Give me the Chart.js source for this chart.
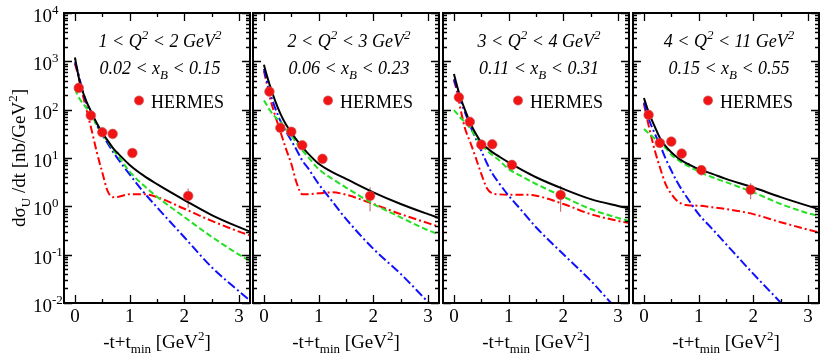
<!DOCTYPE html>
<html>
<head>
<meta charset="utf-8">
<script src="https://cdn.jsdelivr.net/npm/chart.js@4.4.1/dist/chart.umd.min.js"></script>
<style>
html, body { margin: 0; padding: 0; background: #fff; }
#wrap { position: relative; width: 822px; height: 360px; }
#wrap canvas { position: absolute; left: 0; top: 0; }
</style>
</head>
<body>
<div id="wrap">
  <canvas id="c0" width="822" height="360"></canvas>
  <canvas id="c1" width="822" height="360"></canvas>
  <canvas id="c2" width="822" height="360"></canvas>
  <canvas id="c3" width="822" height="360"></canvas>
</div>
<script>
// -t+t_min grid used for the model curves (GeV^2)
const tGrid = [0, 0.05, 0.1, 0.2, 0.3, 0.4, 0.5, 0.6, 0.7, 0.8, 1.0, 1.25, 1.5, 2.0, 2.5, 3.0, 3.2];

// 1 < Q2 < 2
const black1 = [1200, 600, 331, 158, 89, 52.5, 33.1, 22.9, 15.8, 12.0, 7.2, 4.37, 2.88, 1.35, 0.66, 0.37, 0.30];
const green1 = [269, 200, 158, 112, 79, 47.9, 31.6, 21.9, 14.8, 10.5, 5.25, 2.75, 1.58, 0.60, 0.234, 0.10, 0.074];
const blue1  = [955, 631, 372, 148, 76, 47.9, 30.2, 20, 13.2, 9.1, 4.57, 2.0, 0.955, 0.229, 0.055, 0.0174, 0.0112];
const red1   = [891, 562, 316, 112, 39.8, 13.2, 5.0, 2.04, 1.55, 1.58, 1.78, 1.78, 1.55, 0.89, 0.50, 0.30, 0.25];

// 2 < Q2 < 3
const black2 = [851, 525, 339, 158, 83, 50, 33.9, 23.4, 17.0, 12.6, 7.6, 5.1, 3.7, 1.95, 1.12, 0.69, 0.575];
const green2 = [155, 126, 100, 72, 56, 40, 29, 20, 14.5, 10.7, 5.9, 3.7, 2.45, 1.12, 0.59, 0.32, 0.26];
const blue2  = [692, 398, 245, 112, 59, 36, 23, 14.5, 8.9, 6.3, 2.9, 1.26, 0.55, 0.132, 0.04, 0.0105, 0.0063];
const red2   = [631, 355, 195, 79, 35.5, 15.8, 7.6, 3.0, 1.78, 1.78, 1.86, 1.95, 1.74, 1.12, 0.69, 0.45, 0.38];

// 3 < Q2 < 4
const black3 = [550, 331, 209, 100, 52.5, 31.6, 20.9, 16.2, 13.2, 11.2, 8.1, 5.6, 4.0, 2.29, 1.41, 1.02, 0.91];
const green3 = [98, 85, 72, 55, 40.7, 27.5, 19.5, 14.5, 11.5, 9.5, 5.9, 4.1, 2.9, 1.58, 0.88, 0.575, 0.50];
const blue3  = [427, 282, 182, 89, 45.7, 25.1, 14.1, 7.9, 4.8, 3.3, 1.66, 0.79, 0.37, 0.102, 0.029, 0.0071, 0.0045];
const red3   = [407, 251, 132, 41.7, 20.9, 10, 4.7, 2.4, 1.86, 1.78, 1.74, 1.74, 1.66, 1.12, 0.69, 0.50, 0.45];

// 4 < Q2 < 11
const black4 = [174, 117, 81, 44, 25, 17.4, 13.2, 10.5, 8.7, 7.6, 5.9, 4.7, 3.7, 2.45, 1.55, 1.02, 0.87];
const green4 = [40, 35.5, 31.6, 25, 20, 15.8, 11.7, 9.5, 7.9, 6.9, 5.25, 4.0, 3.16, 1.95, 1.12, 0.72, 0.63];
const blue4  = [141, 89, 59, 31.6, 17.8, 9.5, 5.5, 3.3, 2.14, 1.45, 0.69, 0.34, 0.166, 0.04, 0.0102, 0.0025, 0.0014];
const red4   = [132, 71, 40, 14.1, 6.0, 2.8, 1.82, 1.32, 1.12, 1.05, 1.03, 0.955, 0.88, 0.69, 0.47, 0.33, 0.29];

// HERMES points (t, dsigma/dt, error)
const hermesT1 = [0.07, 0.29, 0.50, 0.69, 1.05, 2.07];
const hermesY1 = [282, 76, 34, 31.5, 12.7, 1.64];
const hermesE1 = [30, 8, 4, 3, 1.5, 0.7];
const hermesT2 = [0.10, 0.30, 0.50, 0.70, 1.07, 1.94];
const hermesY2 = [236, 42, 35, 18.3, 9.6, 1.64];
const hermesE2 = [25, 5, 4, 2.5, 1.2, 0.85];
const hermesT3 = [0.09, 0.29, 0.50, 0.70, 1.06, 1.95];
const hermesY3 = [180, 56, 18.9, 19.2, 7.2, 1.72];
const hermesE3 = [20, 6, 3.5, 2.5, 1.8, 0.95];
const hermesT4 = [0.085, 0.29, 0.50, 0.69, 1.05, 1.95];
const hermesY4 = [78, 20.5, 21.8, 12.3, 5.6, 2.2];
const hermesE4 = [8, 2.5, 2.5, 1.8, 1.2, 0.8];

// bin labels
const q2Lo = ['1', '2', '3', '4'];
const q2Hi = ['2', '3', '4', '11'];
const xbLo = ['0.02', '0.06', '0.11', '0.15'];
const xbHi = ['0.15', '0.23', '0.31', '0.55'];

// axes
const xTicks = [0, 1, 2, 3];
const xMinor = [0.5, 1.5, 2.5];
const yDecades = [-2, -1, 0, 1, 2, 3, 4];

// layout
const PANEL_LEFT = [64, 253, 443, 633];
const PANEL_W = 186;
const TOP = 13, BOTTOM = 303;
const W = 822, H = 360;
const SERIF = 'Liberation Serif';

function drawRich(ctx, segs, x, y, align) {
    let total = 0;
    segs.forEach(s => {
        ctx.font = s.font;
        s.w = ctx.measureText(s.t).width;
        total += s.w;
    });
    let cx = align === 'center' ? x - total / 2 : (align === 'right' ? x - total : x);
    ctx.textAlign = 'left';
    ctx.textBaseline = 'alphabetic';
    segs.forEach(s => {
        ctx.font = s.font;
        ctx.fillText(s.t, cx, y + (s.dy || 0));
        cx += s.w;
    });
}

const big = '19px ' + SERIF;
const small = '13px ' + SERIF;
const itBig = 'italic 18px ' + SERIF;
const itSmall = 'italic 13px ' + SERIF;

function makePts(xs, ys) {
    return xs.map((x, i) => ({ x: x, y: ys[i] }));
}

const decorPlugin = {
    id: 'decor',
    beforeDatasetsDraw(chart, args, opts) {
        // error bars for HERMES points
        const ctx = chart.ctx;
        const xs = chart.scales.x, ys = chart.scales.y;
        const p = opts.panel;
        ctx.save();
        ctx.strokeStyle = 'rgb(190,120,120)';
        ctx.lineWidth = 1.2;
        p.hx.forEach((t, i) => {
            const px = xs.getPixelForValue(t);
            const y1 = ys.getPixelForValue(p.hy[i] + p.he[i]);
            const y2 = ys.getPixelForValue(Math.max(p.hy[i] - p.he[i], 0.011));
            ctx.beginPath();
            ctx.moveTo(px, y1);
            ctx.lineTo(px, y2);
            ctx.stroke();
        });
        ctx.restore();
    },
    afterDatasetsDraw(chart, args, opts) {
        const ctx = chart.ctx;
        const a = chart.chartArea;
        const xs = chart.scales.x, ys = chart.scales.y;
        const p = opts.panel;
        ctx.save();
        ctx.strokeStyle = '#000';
        // ticks
        ctx.lineWidth = 1.3;
        ctx.beginPath();
        xTicks.concat(xMinor).forEach(v => {
            const px = Math.round(xs.getPixelForValue(v)) + 0.5;
            const len = xTicks.includes(v) ? 8 : 4;
            ctx.moveTo(px, a.bottom); ctx.lineTo(px, a.bottom - len);
            ctx.moveTo(px, a.top); ctx.lineTo(px, a.top + len);
        });
        yDecades.forEach(d => {
            for (let k = 1; k <= 9; k++) {
                if (d === 4 && k > 1) break;
                const v = k * Math.pow(10, d);
                const py = Math.round(ys.getPixelForValue(v)) + 0.5;
                const len = k === 1 ? 8 : 4;
                ctx.moveTo(a.left, py); ctx.lineTo(a.left + len, py);
                ctx.moveTo(a.right, py); ctx.lineTo(a.right - len, py);
            }
        });
        ctx.stroke();
        // frame
        ctx.lineWidth = 2;
        ctx.strokeRect(a.left, a.top, a.right - a.left, a.bottom - a.top);

        // bin text
        ctx.fillStyle = '#000';
        const cx = (a.left + a.right) / 2 + 3;
        drawRich(ctx, [
            { t: q2Lo[p.idx] + ' < Q', font: itBig },
            { t: '2', font: itSmall, dy: -8 },
            { t: ' < ' + q2Hi[p.idx] + ' GeV', font: itBig },
            { t: '2', font: itSmall, dy: -8 }
        ], cx, 46.5, 'center');
        drawRich(ctx, [
            { t: xbLo[p.idx] + ' < x', font: itBig },
            { t: 'B', font: itSmall, dy: 5 },
            { t: ' < ' + xbHi[p.idx], font: itBig }
        ], cx, 73.5, 'center');

        // legend
        const mx = a.left + 75, my = 100.5;
        ctx.beginPath();
        ctx.arc(mx, my, 4.6, 0, Math.PI * 2);
        ctx.fillStyle = '#f21414';
        ctx.fill();
        ctx.strokeStyle = 'rgba(200,90,90,0.8)';
        ctx.lineWidth = 0.8;
        ctx.stroke();
        ctx.fillStyle = '#000';
        drawRich(ctx, [{ t: 'HERMES', font: '18px ' + SERIF }], mx + 12, 107.5, 'left');

        // x title
        drawRich(ctx, [
            { t: '-t+t', font: big },
            { t: 'min', font: small, dy: 5 },
            { t: ' [GeV', font: big },
            { t: '2', font: small, dy: -8 },
            { t: ']', font: big }
        ], (a.left + a.right) / 2, 348, 'center');

        if (p.idx === 0) {
            // y tick labels
            yDecades.forEach(d => {
                const py = ys.getPixelForValue(Math.pow(10, d));
                drawRich(ctx, [
                    { t: '10', font: '19px ' + SERIF },
                    { t: String(d), font: '13px ' + SERIF, dy: -8 }
                ], 33, py + 9, 'left');
            });
            // y title
            ctx.save();
            ctx.translate(25, (a.top + a.bottom) / 2);
            ctx.rotate(-Math.PI / 2);
            drawRich(ctx, [
                { t: 'd\u03c3', font: big },
                { t: 'U', font: small, dy: 5 },
                { t: ' /dt [nb/GeV', font: big },
                { t: '2', font: small, dy: -8 },
                { t: ']', font: big }
            ], 0, 0, 'center');
            ctx.restore();
        }
        ctx.restore();
    }
};

const panels = [
    { idx: 0, black: black1, green: green1, blue: blue1, red: red1, hx: hermesT1, hy: hermesY1, he: hermesE1 },
    { idx: 1, black: black2, green: green2, blue: blue2, red: red2, hx: hermesT2, hy: hermesY2, he: hermesE2 },
    { idx: 2, black: black3, green: green3, blue: blue3, red: red3, hx: hermesT3, hy: hermesY3, he: hermesE3 },
    { idx: 3, black: black4, green: green4, blue: blue4, red: red4, hx: hermesT4, hy: hermesY4, he: hermesE4 }
];

function curve(label, ys, color, dash) {
    return {
        label: label,
        data: makePts(tGrid, ys),
        borderColor: color,
        borderWidth: 2,
        borderDash: dash,
        pointRadius: 0,
        fill: false,
        cubicInterpolationMode: 'monotone'
    };
}

panels.forEach(p => {
    const left = PANEL_LEFT[p.idx];
    const yW = p.idx === 0 ? 64 : 0;
    new Chart(document.getElementById('c' + p.idx), {
        type: 'line',
        data: {
            datasets: [
                {
                    label: 'HERMES',
                    data: makePts(p.hx, p.hy),
                    showLine: false,
                    pointRadius: 4.8,
                    pointStyle: 'circle',
                    pointBackgroundColor: '#f21414',
                    pointBorderColor: 'rgba(200,90,90,0.8)',
                    pointBorderWidth: 0.8
                },
                curve('total', p.black, '#000000', []),
                curve('green', p.green, '#22e022', [6, 3]),
                curve('blue', p.blue, '#1010ff', [9, 3, 2, 3]),
                curve('red', p.red, '#ff0000', [8, 3, 2, 3])
            ]
        },
        options: {
            responsive: false,
            animation: false,
            layout: {
                autoPadding: false,
                padding: { left: left - yW, right: W - left - PANEL_W, top: TOP, bottom: 0 }
            },
            scales: {
                x: {
                    type: 'linear',
                    min: -0.2,
                    max: 3.2,
                    afterBuildTicks: s => { s.ticks = xTicks.map(v => ({ value: v })); },
                    afterFit: s => { s.height = H - BOTTOM; },
                    grid: { display: false, drawTicks: false },
                    border: { display: false },
                    ticks: {
                        color: '#000',
                        padding: 3,
                        maxRotation: 0,
                        font: { family: SERIF, size: 19 }
                    }
                },
                y: {
                    type: 'logarithmic',
                    min: 0.01,
                    max: 10000,
                    afterFit: s => { s.width = yW; },
                    grid: { display: false, drawTicks: false },
                    border: { display: false },
                    ticks: { display: false }
                }
            },
            plugins: {
                legend: { display: false },
                tooltip: { enabled: false },
                decor: { panel: p }
            }
        },
        plugins: [decorPlugin]
    });
});
</script>
</body>
</html>
